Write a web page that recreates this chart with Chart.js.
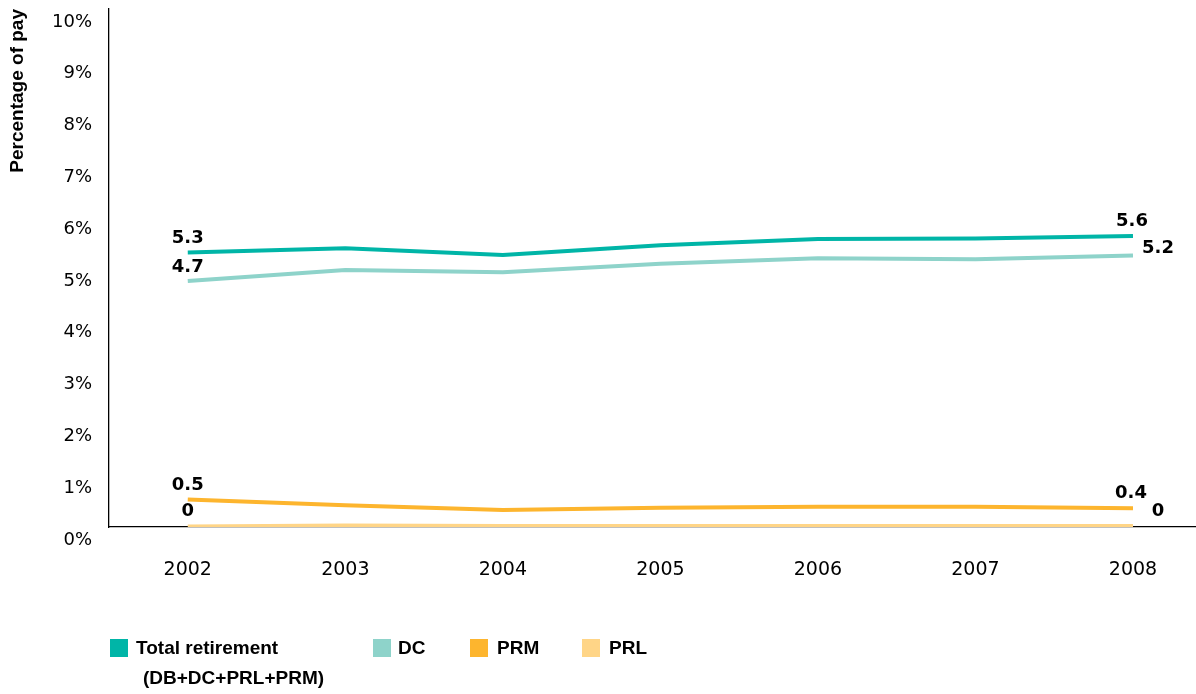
<!DOCTYPE html>
<html><head><meta charset="utf-8">
<script src="https://cdn.jsdelivr.net/npm/chart.js@4/dist/chart.umd.min.js"></script>
<style>
html,body{margin:0;padding:0;background:#fff;}
#wrap{position:relative;width:1196px;height:694px;overflow:hidden;}
canvas{position:absolute;left:0;top:0;}
.leg{position:absolute;font:bold 19px "Liberation Sans",Arial,sans-serif;color:#000;white-space:nowrap;line-height:22px;}
.box{position:absolute;width:18px;height:18px;}
</style></head><body>
<div id="wrap"><canvas id="c" width="1196" height="694"></canvas><div id="legend"></div></div>
<script>
const years = [2002, 2003, 2004, 2005, 2006, 2007, 2008];
const totalRetirement = [5.30, 5.38, 5.25, 5.44, 5.56, 5.57, 5.62];
const dc = [4.75, 4.96, 4.92, 5.08, 5.19, 5.17, 5.24];
const prm = [0.53, 0.42, 0.33, 0.37, 0.39, 0.39, 0.36];
const prl = [0.01, 0.03, 0.02, 0.02, 0.02, 0.02, 0.02];
const yTicks = [0, 1, 2, 3, 4, 5, 6, 7, 8, 9, 10];
const seriesNames = ['Total retirement', 'DC', 'PRM', 'PRL'];
const legendSubtitle = '(DB+DC+PRL+PRM)';
const firstLabels = ['5.3', '4.7', '0.5', '0'];
const lastLabels = ['5.6', '5.2', '0.4', '0'];
const yTitle = 'Percentage of pay';

const colors = ['#00B5A7', '#8ED3CA', '#FDB52E', '#FFD587'];
const series = [totalRetirement, dc, prm, prl];

// label offsets (style)
const firstOff = [[0,-14],[0,-14],[0,-14],[0,-15]];
const lastOff = [[-1,-15],[25,-7],[-2,-15],[25,-15]];

const labelPlugin = {
  id: 'endLabels',
  afterDatasetsDraw(chart) {
    const ctx = chart.ctx;
    ctx.save();
    ctx.font = 'bold 18px "DejaVu Sans", sans-serif';
    ctx.fillStyle = '#000';
    ctx.textAlign = 'center';
    ctx.textBaseline = 'middle';
    chart.data.datasets.forEach((ds, di) => {
      const i = ds.srcIndex;
      const meta = chart.getDatasetMeta(di);
      const p0 = meta.data[0], pN = meta.data[meta.data.length - 1];
      ctx.fillText(firstLabels[i], p0.x + firstOff[i][0], p0.y + firstOff[i][1]);
      ctx.fillText(lastLabels[i], pN.x + lastOff[i][0], pN.y + lastOff[i][1]);
    });
    ctx.restore();
  }
};

new Chart(document.getElementById('c'), {
  type: 'line',
  data: {
    datasets: series.map((arr, i) => ({
      label: seriesNames[i],
      srcIndex: i,
      data: arr.map((v, j) => ({x: years[j], y: v})),
      borderColor: colors[i],
      backgroundColor: colors[i],
      borderWidth: 4,
      pointRadius: 0,
      tension: 0,
      fill: false
    })).reverse()
  },
  options: {
    responsive: false,
    animation: false,
    devicePixelRatio: 1,
    layout: {padding: {top: 9, left: 0, right: 0, bottom: 0}},
    plugins: {legend: {display: false}, tooltip: {enabled: false}},
    scales: {
      x: {
        type: 'linear',
        min: 2001.5,
        max: 2008.4,
        afterBuildTicks(s) { s.ticks = years.map(v => ({value: v})); },
        afterFit(s) { s.height = 167; s.paddingLeft = 0; s.paddingRight = 0; },
        grid: {display: false, drawTicks: false},
        border: {display: true, color: '#000', width: 1.3},
        ticks: {
          padding: 32,
          color: '#000',
          font: {family: '"DejaVu Sans", sans-serif', size: 19},
          callback: v => String(v)
        }
      },
      y: {
        min: 0,
        max: 10,
        afterBuildTicks(s) { s.ticks = yTicks.map(v => ({value: v})); },
        afterFit(s) { s.width = 109; s.paddingTop = 0; s.paddingBottom = 0; },
        grid: {display: false, drawTicks: false},
        border: {display: true, color: '#000', width: 1.3},
        title: {
          display: true,
          text: yTitle,
          align: 'end',
          color: '#000',
          padding: {top: 6, bottom: 0},
          font: {family: '"Liberation Sans", Arial, sans-serif', size: 19, weight: 'bold'}
        },
        ticks: {
          padding: 17,
          labelOffset: 13,
          color: '#000',
          font: {family: '"DejaVu Sans", sans-serif', size: 18},
          callback: v => v + '%'
        }
      }
    }
  },
  plugins: [labelPlugin]
});

// HTML legend
const legendPos = [[110, 136], [373, 398], [470, 497], [582, 609]];
const leg = document.getElementById('legend');
seriesNames.forEach((n, i) => {
  const b = document.createElement('div');
  b.className = 'box';
  b.style.left = legendPos[i][0] + 'px';
  b.style.top = '639px';
  b.style.background = colors[i];
  leg.appendChild(b);
  const t = document.createElement('div');
  t.className = 'leg';
  t.style.left = legendPos[i][1] + 'px';
  t.style.top = '637px';
  t.textContent = n;
  leg.appendChild(t);
});
const sub = document.createElement('div');
sub.className = 'leg';
sub.style.left = '143px';
sub.style.top = '667px';
sub.textContent = legendSubtitle;
leg.appendChild(sub);
</script>
</body></html>
